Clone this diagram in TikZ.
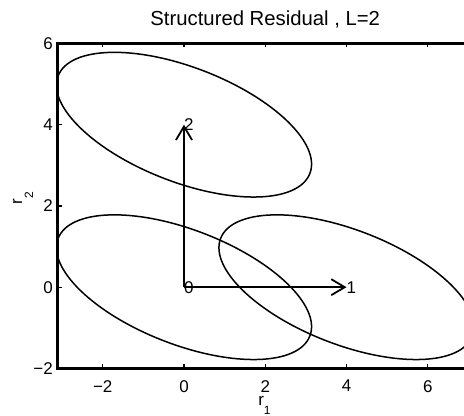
\documentclass[tikz,border=0pt]{standalone}
\usepackage{fontspec}
\setmainfont{Liberation Sans}
\usetikzlibrary{arrows.meta}
\begin{document}
\begin{tikzpicture}[x=40.63pt,y=40.63pt,
  axisline/.style={line width=2.3pt},
  tickline/.style={line width=1.2pt},
  ell/.style={line width=1.5pt},
  vec/.style={line width=1.8pt,-{Straight Barb[length=13.5pt,width=16pt]}},
  ticklab/.style={font=\fontsize{17}{17}\selectfont, inner sep=0pt},
  vlab/.style={font=\fontsize{17}{17}\selectfont, inner sep=0pt, anchor=west},
  titlestyle/.style={font=\fontsize{20.3}{20.3}\selectfont, inner sep=0pt, anchor=base},
  axlab/.style={font=\fontsize{17}{17}\selectfont, inner sep=0pt},
]
\useasboundingbox (-4.529,-3.170) rectangle (6.892,7.069);
% ellipses clipped to the axes
\begin{scope}
\clip (-3.11,-2) rectangle (7.14,6);
\draw[ell,rotate around={-21.2:(0,0)}] (0,0) ellipse [x radius=3.323, y radius=1.410];
\draw[ell,rotate around={-21.2:(4,0)}] (4,0) ellipse [x radius=3.323, y radius=1.410];
\draw[ell,rotate around={-21.2:(0,4)}] (0,4) ellipse [x radius=3.323, y radius=1.410];
\end{scope}
% axes box
\draw[axisline] (-3.11,-2) rectangle (7.14,6);
\foreach \t in {-2,0,2,4,6} {
  \draw[tickline] (\t,-2) -- ++(0,0.1);
  \draw[tickline] (\t,6) -- ++(0,-0.1);
}
\foreach \t in {-2,0,2,4,6} {
  \draw[tickline] (-3.11,\t) -- ++(0.1,0);
}
% tick labels
\node[ticklab,anchor=north] (xm2) at (-2,-2.284) {−2};
\node[ticklab,anchor=north] (x0) at (0,-2.284) {0};
\node[ticklab,anchor=north] (x2) at (2,-2.284) {2};
\node[ticklab,anchor=north] (x4) at (4,-2.284) {4};
\node[ticklab,anchor=north] (x6) at (6,-2.284) {6};
\node[ticklab,anchor=east] (ym2) at (-3.224,-2) {−2};
\node[ticklab,anchor=east] (y0) at (-3.224,0) {0};
\node[ticklab,anchor=east] (y2) at (-3.224,2) {2};
\node[ticklab,anchor=east] (y4) at (-3.224,4) {4};
\node[ticklab,anchor=east] (y6) at (-3.224,6) {6};
% axis labels and title
\node[axlab,anchor=base] (xlab) at (1.98,-2.90) {r\raisebox{-9.5pt}{\fontsize{12}{12}\selectfont 1}};
\node[axlab,anchor=base west,rotate=90] (ylab) at (-3.987,2.035) {r\raisebox{-11pt}{\fontsize{12}{12}\selectfont 2}};
\node[titlestyle] (title) at (2.0,6.453) {Structured Residual , L=2};
% vectors
\coordinate (o) at (0,0);
\coordinate (t1) at (4,0);
\coordinate (t2) at (0,4);
\draw[vec] (o) -- (t1);
\draw[vec] (o) -- (t2);
\node[vlab] (l0) at (o) {0};
\node[vlab] (l1) at (t1) {1};
\node[vlab] (l2) at (t2) {2};
\end{tikzpicture}
\end{document}
